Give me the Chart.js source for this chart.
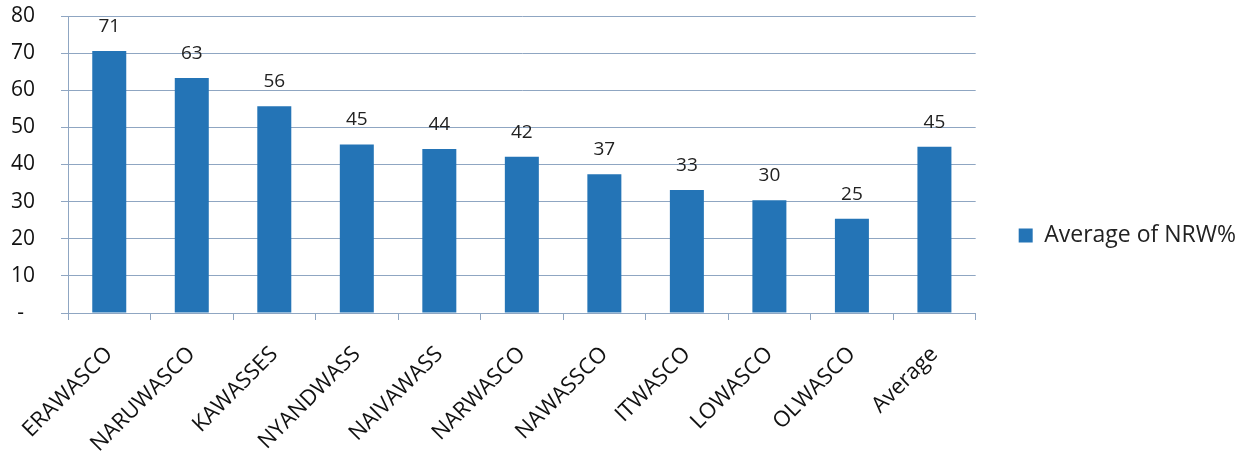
<!DOCTYPE html>
<html>
<head>
<meta charset="utf-8">
<script src="https://cdn.jsdelivr.net/npm/chart.js@4/dist/chart.umd.min.js"></script>
<style>
html,body{margin:0;padding:0;background:#fff;}
#wrap{width:1248px;height:455px;}
</style>
</head>
<body>
<div id="wrap"><canvas id="c" width="1248" height="455"></canvas></div>
<script>
const categories = ["ERAWASCO","NARUWASCO","KAWASSES","NYANDWASS","NAIVAWASS","NARWASCO","NAWASSCO","ITWASCO","LOWASCO","OLWASCO","Average"];
const nrwValues = [70.6, 63.3, 55.7, 45.4, 44.2, 42.1, 37.4, 33.1, 30.4, 25.4, 44.8];
const dataLabels = ["71","63","56","45","44","42","37","33","30","25","45"];
const yTicks = [0,10,20,30,40,50,60,70,80];
const seriesName = "Average of NRW%";

const BAR = "#2474b6";
const GRID = "#8fa6c2";
const FONT = "'Open Sans', sans-serif";

const labelPlugin = {
  id: "barLabels",
  afterDatasetsDraw(chart){
    const ctx = chart.ctx;
    const meta = chart.getDatasetMeta(0);
    ctx.save();
    ctx.fillStyle = "#222";
    ctx.font = "19px " + FONT;
    ctx.textAlign = "center";
    ctx.textBaseline = "alphabetic";
    meta.data.forEach((bar,i)=>{
      ctx.fillText(dataLabels[i], bar.x, bar.y - 19);
    });
    ctx.restore();
  }
};

new Chart(document.getElementById("c"), {
  type: "bar",
  data: {
    labels: categories,
    datasets: [{
      label: seriesName,
      data: nrwValues,
      backgroundColor: BAR,
      borderWidth: 0,
      categoryPercentage: 1.0,
      barPercentage: 0.412
    }]
  },
  options: {
    responsive: false,
    animation: false,
    layout: { padding: { top: 16, left: 10, right: 2, bottom: 0 } },
    plugins: {
      tooltip: { enabled: false },
      legend: {
        position: "right",
        labels: {
          boxWidth: 14, boxHeight: 14, padding: 43,
          color: "#222",
          font: { family: FONT, size: 23 }
        }
      }
    },
    scales: {
      x: {
        afterFit(axis){ axis.paddingLeft = 0; axis.paddingRight = 0; axis.height = 142; },
        grid: { display: true, drawOnChartArea: false, drawTicks: true, tickLength: 7, color: GRID, offset: true },
        border: { color: GRID, width: 1 },
        ticks: {
          minRotation: 45, maxRotation: 45, autoSkip: false,
          color: "#111",
          font: { family: FONT, size: 22, lineHeight: 1.0 },
          padding: 23
        }
      },
      y: {
        min: 0, max: 80,
        afterBuildTicks(axis){ axis.ticks = yTicks.map(v=>({value:v})); },
        afterFit(axis){ axis.paddingTop = 0; axis.paddingBottom = 0; axis.width = 58; },
        grid: { color: GRID, drawTicks: true, tickLength: 7 },
        border: { color: GRID, width: 1 },
        ticks: {
          color: "#111",
          font: { family: FONT, size: 21 },
          padding: 26,
          callback: v => v === 0 ? "-  " : String(v)
        }
      }
    }
  },
  plugins: [labelPlugin]
});
</script>
</body>
</html>
